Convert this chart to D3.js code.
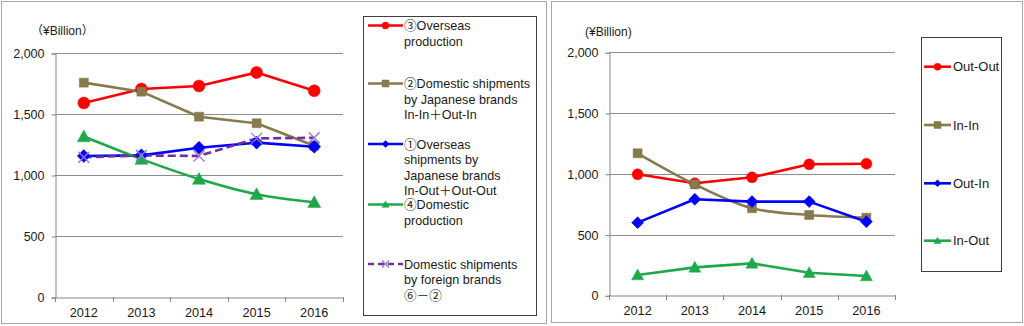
<!DOCTYPE html>
<html>
<head>
<meta charset="utf-8">
<script src="https://cdn.jsdelivr.net/npm/d3@7/dist/d3.min.js"></script>
<style>
  html, body { margin: 0; padding: 0; background: #ffffff; }
  svg { display: block; }
  text { font-family: "Liberation Sans", Arial, "Noto Sans CJK JP", sans-serif; fill: #1a1a1a; }
</style>
</head>
<body>
<svg id="chart" width="1024" height="326"></svg>
<script>
// Categories and tick values shared by both panels
const years = ["2012", "2013", "2014", "2015", "2016"];
const yTicks = [0, 500, 1000, 1500, 2000];

// Left panel series (¥ billion)
const overseasProduction = [1590, 1705, 1730, 1840, 1690];
const domesticShipJapanese = [1757, 1683, 1478, 1424, 1240];
const overseasShipJapanese = [1156, 1161, 1224, 1265, 1232];
const domesticProduction = [1315, 1130, 967, 842, 776];
const domesticShipForeign = [1145, 1160, 1156, 1300, 1305];

// Right panel series (¥ billion)
const outOut = [996, 922, 971, 1078, 1083];
const inIn = [1169, 913, 716, 661, 639];
const outIn = [598, 790, 771, 771, 606];
const inOut = [167, 230, 263, 186, 159];

const svg = d3.select("#chart");

// Marker path generators
function markerPath(type, s) {
  const h = s / 2;
  switch (type) {
    case "circle": return d3.symbol(d3.symbolCircle, Math.PI * h * h)();
    case "square": return `M${-h},${-h}H${h}V${h}H${-h}Z`;
    case "diamond": return `M0,${-h}L${h},0L0,${h}L${-h},0Z`;
    case "triangle": return `M0,${-h}L${h},${h * 0.8}L${-h},${h * 0.8}Z`;
    case "x": return `M${-h},${-h}L${h},${h}M${h},${-h}L${-h},${h}`;
  }
}

function drawMarker(g, type, color, size, x, y) {
  const p = g.append("path")
    .attr("d", markerPath(type, size))
    .attr("transform", `translate(${x},${y})`);
  if (type === "x") {
    p.attr("fill", "none").attr("stroke", color).attr("stroke-width", 1.3);
  } else {
    p.attr("fill", color).attr("stroke", color).attr("stroke-width", 0.5);
  }
}

function panel(opts) {
  const g = svg.append("g");
  // frame
  g.append("rect")
    .attr("x", opts.frame[0] + 0.5).attr("y", opts.frame[1] + 0.5)
    .attr("width", opts.frame[2]).attr("height", opts.frame[3])
    .attr("fill", "#ffffff").attr("stroke", "#a6a6a6").attr("stroke-width", 1);

  const x = d3.scaleBand().domain(years).range([opts.x0, opts.x1]);
  const y = d3.scaleLinear().domain([0, 2000]).range([opts.yBottom, opts.yTop]);

  // gridlines
  g.selectAll(".grid").data(yTicks.filter(t => t > 0)).join("line")
    .attr("x1", opts.x0).attr("x2", opts.x1)
    .attr("y1", d => Math.round(y(d)) + 0.5).attr("y2", d => Math.round(y(d)) + 0.5)
    .attr("stroke", "#8c8c8c").attr("stroke-width", 1);

  // y axis
  const yAxis = g.append("g")
    .attr("transform", `translate(${Math.round(opts.x0) + 0.5},0.5)`)
    .call(d3.axisLeft(y).tickValues(yTicks).tickSize(4).tickPadding(7)
      .tickFormat(d3.format(",")));
  yAxis.select(".domain").attr("stroke", "#868686");
  yAxis.selectAll(".tick line").attr("stroke", "#868686");
  yAxis.selectAll("text").attr("font-size", "12.5px").attr("fill", "#1a1a1a")
    .style("font-family", "'Liberation Sans', Arial, sans-serif");

  // x axis with ticks at category boundaries
  const xAxis = g.append("g")
    .attr("transform", `translate(0,${Math.round(opts.yBottom) + 0.5})`)
    .call(d3.axisBottom(x).tickSize(0).tickPadding(10));
  xAxis.select(".domain").attr("stroke", "#868686");
  xAxis.selectAll("text").attr("font-size", "12.7px").attr("fill", "#1a1a1a")
    .style("font-family", "'Liberation Sans', Arial, sans-serif");
  const bounds = years.map(d => x(d)).concat([x(years[years.length - 1]) + x.bandwidth()]);
  g.selectAll(".xtick").data(bounds).join("line")
    .attr("x1", d => Math.round(d) + 0.5).attr("x2", d => Math.round(d) + 0.5)
    .attr("y1", Math.round(opts.yBottom)).attr("y2", Math.round(opts.yBottom) + 5)
    .attr("stroke", "#868686");

  // unit label
  g.append("text").attr("x", opts.unitX).attr("y", opts.unitY)
    .attr("font-size", "12px").text(opts.unit);

  const cx = d => x(d) + x.bandwidth() / 2;

  // series lines and markers
  opts.series.forEach(s => {
    const line = d3.line()
      .x((v, i) => cx(years[i]))
      .y(v => y(v))
      .curve(s.smooth ? d3.curveCatmullRom.alpha(0.5) : d3.curveLinear);
    g.append("path").datum(s.values)
      .attr("d", line)
      .attr("fill", "none")
      .attr("stroke", s.lineColor || s.color)
      .attr("stroke-width", 2.6)
      .attr("stroke-linejoin", "round")
      .attr("stroke-dasharray", s.dash || null);
  });
  opts.series.forEach(s => {
    s.values.forEach((v, i) => drawMarker(g, s.marker, s.color, s.size, cx(years[i]), y(v)));
  });

  // legend
  const lg = g.append("g");
  lg.append("rect")
    .attr("x", opts.legend.box[0] + 0.5).attr("y", opts.legend.box[1] + 0.5)
    .attr("width", opts.legend.box[2]).attr("height", opts.legend.box[3])
    .attr("fill", "#ffffff").attr("stroke", "#404040").attr("stroke-width", 1);
  opts.series.forEach((s, k) => {
    const ly = opts.legend.rows[k];
    const [lx0, lx1] = opts.legend.line;
    lg.append("line")
      .attr("x1", lx0).attr("x2", lx1).attr("y1", ly).attr("y2", ly)
      .attr("stroke", s.lineColor || s.color).attr("stroke-width", 2.6)
      .attr("stroke-dasharray", s.dash ? "6,4" : null);
    drawMarker(lg, s.marker, s.color, s.marker === "x" ? 7 : 7, (lx0 + lx1) / 2, ly);
    const t = lg.append("text")
      .attr("x", opts.legend.textX).attr("y", ly + 4.5)
      .attr("font-size", opts.legend.fontSize);
    s.label.forEach((line, j) => {
      t.append("tspan").attr("x", opts.legend.textX)
        .attr("dy", j === 0 ? 0 : opts.legend.lineGap).text(line);
    });
  });
}

panel({
  frame: [1, 1, 545, 322],
  x0: 55, x1: 343, yBottom: 297, yTop: 53,
  unit: "（¥Billion）", unitX: 31, unitY: 35,
  series: [
    { label: ["③Overseas", "production"], values: overseasProduction, color: "#ff0000", marker: "circle", size: 12 },
    { label: ["②Domestic shipments", "by Japanese  brands", "In-In＋Out-In"], values: domesticShipJapanese, color: "#877a4c", marker: "square", size: 9 },
    { label: ["①Overseas", "shipments by", "Japanese  brands", "In-Out＋Out-Out"], values: overseasShipJapanese, color: "#0000ff", marker: "diamond", size: 13 },
    { label: ["④Domestic", "production"], values: domesticProduction, color: "#1fa84a", marker: "triangle", size: 13, smooth: true },
    { label: ["Domestic shipments", "by foreign  brands", "⑥－②"], values: domesticShipForeign, color: "#9a72d6", lineColor: "#7030a0", marker: "x", size: 11, dash: "8,4" }
  ],
  legend: {
    box: [363, 16, 173, 299],
    rows: [25.5, 83.5, 144, 204.5, 264],
    line: [368, 403], textX: 404, fontSize: "12.6px", lineGap: 15.6
  }
});

panel({
  frame: [551, 1, 471, 321],
  x0: 609, x1: 895, yBottom: 295.3, yTop: 52.3,
  unit: "(¥Billion)", unitX: 585, unitY: 36,
  series: [
    { label: ["Out-Out"], values: outOut, color: "#ff0000", marker: "circle", size: 11 },
    { label: ["In-In"], values: inIn, color: "#877a4c", marker: "square", size: 9, smooth: true },
    { label: ["Out-In"], values: outIn, color: "#0000ff", marker: "diamond", size: 12 },
    { label: ["In-Out"], values: inOut, color: "#1fa84a", marker: "triangle", size: 12 }
  ],
  legend: {
    box: [921, 37, 80, 234],
    rows: [66.7, 125, 183.3, 240.7],
    line: [924, 951], textX: 953, fontSize: "13px", lineGap: 15
  }
});
</script>
</body>
</html>
